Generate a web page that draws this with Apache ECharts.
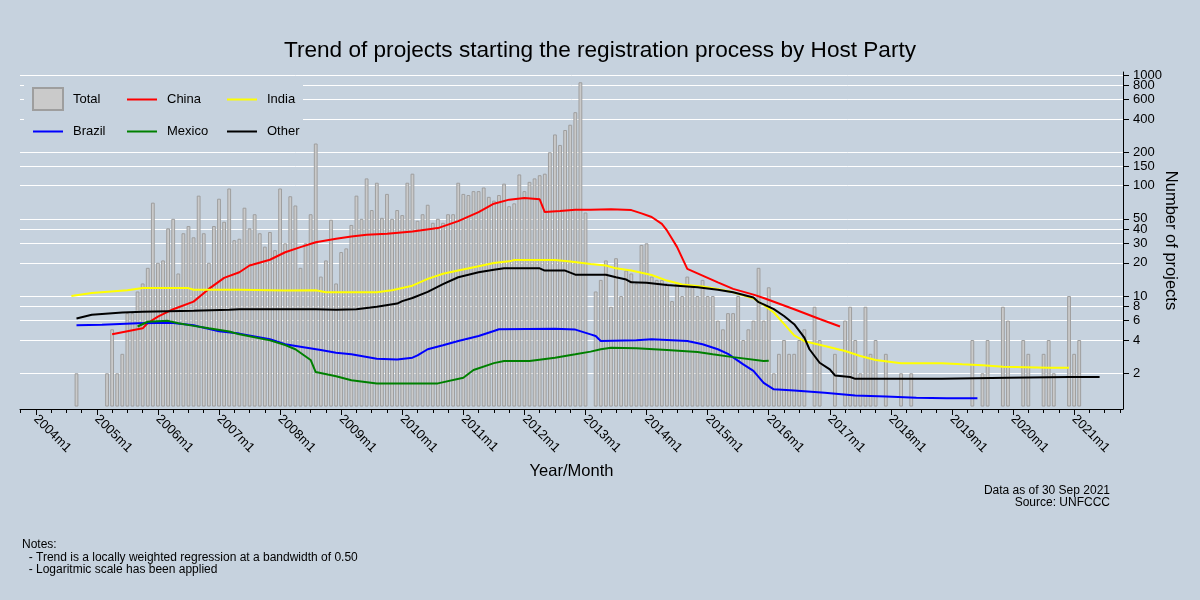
<!DOCTYPE html>
<html><head><meta charset="utf-8">
<script src="https://cdn.jsdelivr.net/npm/echarts@6.0.0/dist/echarts.min.js"></script>
<style>html,body{margin:0;padding:0;background:#c6d2de}#c{width:1200px;height:600px}</style>
</head><body><div id="c"></div>
<script>
// month index 0 = 2004m1 ... 212 = 2021m9
const yearLabels = ['2004m1','2005m1','2006m1','2007m1','2008m1','2009m1','2010m1','2011m1','2012m1',
  '2013m1','2014m1','2015m1','2016m1','2017m1','2018m1','2019m1','2020m1','2021m1'];
const yTicks = [2,4,6,8,10,20,30,40,50,100,150,200,400,600,800,1000];
const totals = [
  0,0,0,0,0,0,0,0,2,0,0,0,            // 2004
  0,0,2,5,2,3,7,7,11,13,18,70,        // 2005
  20,21,41,50,16,37,43,34,81,37,20,43,// 2006
  76,47,94,32,33,63,41,55,37,28,38,26,// 2007
  94,30,80,66,18,30,55,240,15,21,49,13,// 2008
  25,27,44,81,50,116,60,106,51,84,50,60,// 2009
  54,106,128,48,55,67,46,50,46,55,55,106,// 2010
  84,82,89,89,96,79,73,82,104,65,69,126,// 2011
  89,108,116,124,128,200,290,233,318,355,461,860,// 2012
  57,0,11,14,21,8,22,10,17,16,13,29,  // 2013
  30,15,14,14,13,9,13,10,15,12,10,14, // 2014
  10,10,6,5,7,7,10,4,5,6,18,6,        // 2015
  12,2,3,4,3,3,4,5,0,8,4,0,           // 2016
  0,3,0,6,8,4,2,8,3,4,0,3,            // 2017
  0,0,2,0,2,0,0,0,0,0,0,0,            // 2018
  0,0,0,0,4,0,2,4,0,0,8,6,            // 2019
  0,0,4,3,0,0,3,4,2,0,0,10,           // 2020
  3,4,0,0,0,0,0,0,0                   // 2021
];
const chinaX = [15,21,22,24,27,31,34,37,40,42,46,49,52,55,59,62,65,69,74,79,83,87,90,93,96,99,100,103,106,109,113,117,119,121,123,124,125,126,128,131,134,137,141,143,149,154,158];
const chinaY = [4.5,5.1,5.7,6.5,7.6,8.9,11.6,14.6,16.4,18.9,21.3,24.9,27.7,30.7,33.0,34.6,35.8,36.6,38.4,41.2,47.6,57.5,68.5,74.5,77,75,57.5,58.8,60.5,60.5,60.9,59.9,56,51.9,45,39.2,33,27.7,17.6,15.3,13.3,11.6,10.3,9.6,7.6,6.2,5.3];
const indiaX = [7,11,18,21,30,31,40,49,55,57,67,70,74,77,80,83,87,90,93,94,102,105,109,112,114,117,121,124,127,131,134,137,141,143,145,147,149,151,155,159,162,165,170,178,182,186,190,199,203];
const indiaY = [10,10.65,11.3,11.8,11.8,11.4,11.4,11.2,11.3,10.8,10.8,11.3,12.4,14.3,15.9,17.0,18.6,19.9,20.6,21.2,21.2,20.5,19.5,18.9,17.8,17.0,15.5,13.8,12.7,12.2,11.6,10.8,9.5,8.3,7.1,5.6,4.4,3.9,3.53,3.18,2.87,2.64,2.47,2.47,2.41,2.36,2.29,2.24,2.24];
const brazilX = [8,13,20,24,27,31,32,36,40,46,49,52,56,59,62,67,71,74,75,77,80,83,87,90,91,102,106,109,110,111,118,121,128,131,134,136,139,141,143,145,149,155,161,167,173,179,185];
const brazilY = [5.45,5.5,5.68,5.7,5.7,5.45,5.3,4.8,4.57,4.07,3.66,3.48,3.25,3.07,2.97,2.71,2.66,2.77,2.9,3.3,3.59,3.92,4.35,4.83,5.0,5.05,4.97,4.5,4.35,3.92,3.97,4.07,3.92,3.66,3.3,3.0,2.41,2.1,1.64,1.43,1.4,1.33,1.26,1.23,1.2,1.19,1.19];
const mexicoX = [20,22,26,28,31,34,38,40,46,49,51,54,55,59,62,67,79,84,86,90,92,97,102,106,109,111,113,118,124,130,133,137,143,144];
const mexicoY = [5.3,5.85,5.96,5.68,5.37,5.1,4.77,4.5,3.97,3.6,3.3,2.64,2.05,1.88,1.73,1.62,1.62,1.82,2.14,2.47,2.58,2.58,2.77,2.97,3.14,3.3,3.41,3.37,3.25,3.11,2.97,2.8,2.58,2.6];
const otherX = [8,11,17,21,31,38,40,55,59,63,67,71,72,74,77,80,83,87,90,92,99,100,104,106,112,114,116,117,120,124,130,134,137,141,142,143,145,147,149,151,152,154,156,157,160,161,178,191,203,209];
const otherY = [6.26,6.77,7.1,7.2,7.35,7.5,7.6,7.6,7.5,7.6,8.0,8.55,9.0,9.6,10.9,12.8,14.8,16.4,17.3,17.8,17.8,17.0,17.0,15.6,15.6,14.8,14.1,13.3,13.2,12.6,12.0,11.4,10.8,9.7,8.8,8.4,7.6,6.6,5.56,4.2,3.3,2.49,2.17,1.91,1.85,1.78,1.78,1.82,1.85,1.85];

const FONT = '"Liberation Sans", Arial, sans-serif';
const BG = '#c6d2de';
const barData = [];
totals.forEach((v, i) => { if (v > 0) barData.push([i, v]); });
const zip = (xs, ys) => xs.map((x, k) => [x, ys[k]]);
const yearPos = yearLabels.map((s, k) => k * 12);
const quarterPos = [];
for (let m = -3; m <= 213; m += 3) quarterPos.push(m);

function trend(name, color, xs, ys) {
  return {name, type: 'line', xAxisIndex: 0, yAxisIndex: 0, data: zip(xs, ys),
    symbol: 'none', showSymbol: false, z: 3, animation: false,
    lineStyle: {color, width: 2}, itemStyle: {color}, emphasis: {disabled: true}};
}
const legendBase = {orient: 'horizontal', padding: 0, itemGap: 0, selectedMode: false,
  itemWidth: 30, itemHeight: 14, itemStyle: {opacity: 0},
  textStyle: {fontSize: 13, color: '#000', fontFamily: FONT, padding: [0, 0, 0, 5]}};

const chart = echarts.init(document.getElementById('c'));
chart.setOption({
  backgroundColor: BG,
  animation: false,
  textStyle: {fontFamily: FONT},
  title: {text: 'Trend of projects starting the registration process by Host Party', left: 'center', top: 34,
    textStyle: {fontSize: 22.6, fontWeight: 'normal', color: '#000', fontFamily: FONT}},
  grid: [
    {left: 20, right: 77, top: 72, bottom: 191},
    {left: 20, right: 77, top: 72, bottom: 191}
  ],
  xAxis: [
    {type: 'value', gridIndex: 0, min: -3.1, max: 213.6, position: 'bottom',
      axisLine: {show: true, onZero: false, lineStyle: {color: '#000', width: 1}},
      axisTick: {show: true, length: 6, customValues: yearPos, lineStyle: {color: '#000'}},
      axisLabel: {show: true, customValues: yearPos, rotate: -45, margin: 8, fontSize: 13, color: '#000', fontFamily: FONT,
        hideOverlap: false, formatter: v => yearLabels[Math.round(v / 12)]},
      splitLine: {show: false},
      name: 'Year/Month', nameLocation: 'middle', nameGap: 54,
      nameTextStyle: {fontSize: 16.5, color: '#000', fontFamily: FONT}},
    {type: 'value', gridIndex: 1, min: -3.1, max: 213.6, position: 'bottom',
      axisLine: {show: false, onZero: false},
      axisTick: {show: true, length: 4, customValues: quarterPos, lineStyle: {color: '#000'}},
      axisLabel: {show: false}, splitLine: {show: false}}
  ],
  yAxis: [
    {type: 'log', logBase: 10, gridIndex: 0, min: 0.95, max: 1065, position: 'right',
      axisLine: {show: true, onZero: false, lineStyle: {color: '#000', width: 1}},
      axisTick: {show: true, length: 6, customValues: yTicks, lineStyle: {color: '#000'}},
      axisLabel: {show: false},
      splitLine: {show: false}, minorTick: {show: false},
      name: 'Number of projects', nameLocation: 'middle', nameRotate: -90, nameGap: 39, nameMoveOverlap: false,
      nameTextStyle: {fontSize: 16.5, color: '#000', fontFamily: FONT}},
    {type: 'value', gridIndex: 1, min: 0, max: 1, show: false}
  ],
  legend: [
    Object.assign({}, legendBase, {data: [{name: 'Total', icon: 'rect'}], left: 32, top: 87, itemHeight: 22, itemStyle: {}}),
    Object.assign({}, legendBase, {data: ['China'], left: 126, top: 93}),
    Object.assign({}, legendBase, {data: ['India'], left: 226, top: 93}),
    Object.assign({}, legendBase, {data: ['Brazil'], left: 32, top: 125}),
    Object.assign({}, legendBase, {data: ['Mexico'], left: 126, top: 125}),
    Object.assign({}, legendBase, {data: ['Other'], left: 226, top: 125})
  ],
  graphic: {elements: [
    {type: 'rect', z: 1.5, silent: true, shape: {x: 24, y: 79, width: 279, height: 67}, style: {fill: BG}},
    {type: 'text', x: 1110, y: 485, silent: true,
      style: {text: 'Data as of 30 Sep 2021\nSource: UNFCCC', align: 'right', textAlign: 'right', verticalAlign: 'top',
        fontSize: 12, fontFamily: FONT, fill: '#000', lineHeight: 12}},
    {type: 'text', x: 22, y: 539, silent: true,
      style: {text: 'Notes:\n  - Trend is a locally weighted regression at a bandwidth of 0.50\n  - Logaritmic scale has been applied',
        align: 'left', verticalAlign: 'top', fontSize: 12, fontFamily: FONT, fill: '#000', lineHeight: 12.3}}
  ]},
  series: [
    {name: 'Total', type: 'bar', xAxisIndex: 0, yAxisIndex: 0, data: barData, barWidth: 3.8, z: 2,
      itemStyle: {color: '#cacaca', borderColor: '#9e9e9e', borderWidth: 1}, emphasis: {disabled: true},
      markLine: {silent: true, z: 1, symbol: ['none', 'none'], emphasis: {disabled: true},
        label: {show: true, position: 'end', distance: 10, color: '#000', fontSize: 13, fontFamily: FONT,
          formatter: p => String(p.value)},
        lineStyle: {color: '#ffffff', width: 1, type: 'solid'},
        data: yTicks.map(v => ({yAxis: v}))}},
    trend('China', '#ff0000', chinaX, chinaY),
    trend('India', '#ffff00', indiaX, indiaY),
    trend('Brazil', '#0000ff', brazilX, brazilY),
    trend('Mexico', '#008000', mexicoX, mexicoY),
    trend('Other', '#000000', otherX, otherY)
  ]
});
</script>
</body></html>
